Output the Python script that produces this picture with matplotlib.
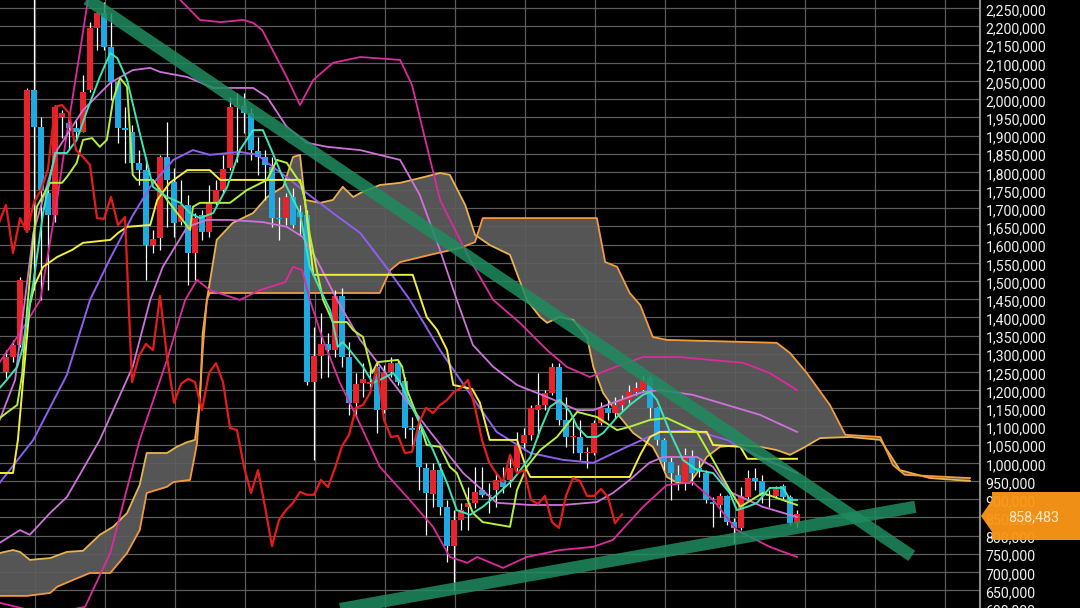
import numpy as np
import matplotlib
matplotlib.use("Agg")
import matplotlib.pyplot as plt
from matplotlib.patches import Polygon

# prices in thousands of yen, one candle per bar
open_ = [1250, 1291, 1324, 1640, 2025, 1924, 1742, 1682, 1951, 1935, 1921, 1910, 2025, 2196, 2237, 2144, 2047, 1921, 1910, 1825,
         1805, 1599, 1618, 1841, 1772, 1662, 1709, 1577, 1682, 1635, 1717, 1750, 1811, 1979, 1981, 1962, 1857, 1841, 1814, 1673,
         1673, 1731, 1690, 1682, 1222, 1294, 1327, 1310, 1459, 1291, 1165, 1220, 1217, 1263, 1145, 1250, 1274, 1225, 1096, 1090,
         986, 914, 980, 879, 771, 843, 879, 890, 925, 909, 925, 953, 953, 986, 1055, 1077, 1145, 1159, 1192, 1263,
         1118, 1071, 1071, 1027, 1027, 1110, 1151, 1137, 1159, 1173, 1195, 1200, 1233, 1151, 1063, 1002, 967, 947, 1016, 986,
         972, 893, 884, 909, 837, 821, 906, 958, 950, 912, 909, 936, 906, 834]
high = [1310, 1338, 1511, 2031, 2290, 1951, 1750, 1984, 1970, 1962, 1943, 2066, 2212, 2240, 2267, 2237, 2053, 1979, 1929, 1860,
        1841, 1640, 1847, 1937, 1811, 1778, 1737, 1687, 1695, 1764, 1778, 1847, 2006, 2017, 2017, 1976, 1896, 1860, 1841, 1731,
        1742, 1756, 1709, 1695, 1374, 1412, 1357, 1475, 1481, 1332, 1247, 1274, 1274, 1274, 1269, 1291, 1283, 1236, 1126, 1126,
        1000, 1000, 1000, 898, 870, 890, 933, 989, 989, 944, 972, 989, 1022, 1085, 1096, 1159, 1247, 1200, 1274, 1274,
        1181, 1126, 1118, 1044, 1118, 1167, 1173, 1181, 1187, 1214, 1222, 1239, 1239, 1154, 1068, 1016, 994, 1041, 1035, 1008,
        980, 906, 917, 912, 848, 933, 980, 986, 967, 925, 936, 942, 912, 870]
low = [1233, 1277, 1318, 1635, 1475, 1448, 1475, 1662, 1893, 1860, 1888, 1910, 2020, 2135, 2135, 1998, 1880, 1825, 1805, 1764,
       1503, 1577, 1585, 1649, 1621, 1654, 1489, 1503, 1613, 1621, 1709, 1742, 1805, 1827, 1907, 1833, 1792, 1723, 1649, 1613,
       1654, 1646, 1627, 1214, 1008, 1233, 1236, 1291, 1263, 1132, 1126, 1181, 1208, 1082, 1137, 1236, 1214, 1068, 1044, 925,
       801, 879, 857, 727, 650, 815, 815, 876, 906, 862, 879, 917, 933, 972, 1035, 1063, 1071, 1145, 1187, 1104,
       1044, 1027, 1008, 986, 1022, 1104, 1118, 1123, 1145, 1165, 1187, 1195, 1123, 1049, 980, 898, 925, 925, 939, 961,
       890, 823, 851, 829, 779, 815, 901, 925, 890, 879, 903, 901, 829, 823]
close = [1291, 1324, 1503, 2025, 1924, 1750, 1682, 1979, 1962, 1921, 1910, 2020, 2196, 2237, 2144, 2047, 1921, 1915, 1825, 1805,
         1599, 1616, 1841, 1778, 1660, 1709, 1577, 1673, 1635, 1717, 1750, 1808, 1979, 1984, 1962, 1860, 1841, 1819, 1673, 1671,
         1731, 1654, 1676, 1222, 1294, 1327, 1310, 1459, 1291, 1165, 1217, 1231, 1222, 1145, 1247, 1274, 1222, 1096, 1090, 989,
         917, 980, 879, 771, 843, 870, 890, 920, 912, 912, 953, 933, 986, 1046, 1077, 1151, 1159, 1192, 1263, 1118,
         1071, 1074, 1027, 1030, 1110, 1151, 1137, 1159, 1173, 1195, 1206, 1228, 1151, 1063, 1002, 972, 947, 1022, 972, 980,
         898, 887, 909, 837, 821, 909, 958, 950, 909, 909, 928, 906, 834, 858.483]

# bollinger middle / +-1 sigma / +-2 sigma  (bar, price)
mid_x = [-0.9, 3.9, 8.7, 12, 14.9, 18.1, 20.6, 23.9, 26.7, 29.1, 33.4, 35.9, 38.1, 40.6, 42.4, 46.7, 50.6, 54.1, 57.7, 62,
         65.9, 70.1, 74.9, 79.6, 83.9, 88.7, 93.4, 98.1, 103, 107.7, 113]
mid_y = [945, 1063, 1242, 1448, 1563, 1680, 1759, 1833, 1860, 1847, 1855, 1847, 1814, 1778, 1750, 1687, 1632, 1544, 1448, 1310,
         1200, 1085, 1027, 1008, 1000, 1044, 1085, 1090, 1063, 1016, 972]
up1_x = [-0.9, 1.3, 2.7, 3.9, 7.3, 11, 14.9, 18.1, 20.6, 22, 25.9, 29.6, 35.3, 37.3, 40.1, 43, 45.9, 50.6, 56.3, 59.1,
         62, 64.4, 66.7, 69.6, 73, 77.3, 81.6, 83.9, 86.7, 91, 93.4, 98.1, 103, 107.7, 113]
up1_y = [1118, 1228, 1448, 1632, 1860, 1970, 2045, 2080, 2086, 2075, 2061, 2031, 2031, 2006, 1924, 1880, 1869, 1860, 1833, 1737,
         1585, 1448, 1324, 1264, 1214, 1181, 1145, 1145, 1165, 1195, 1200, 1187, 1159, 1132, 1085]
lo1_x = [-0.9, 2, 3.4, 6.3, 8.7, 13.4, 18.1, 20.6, 22.4, 25.9, 28.7, 32, 36.7, 40.1, 42.4, 44.4, 47.3, 50.6, 55.3, 60.6,
         65.3, 70.1, 74.9, 79.6, 84.4, 86.7, 89.1, 91.9, 93.9, 98.7, 101, 103.4, 108.1, 113]
lo1_y = [780, 815, 802, 862, 906, 1063, 1264, 1448, 1539, 1649, 1668, 1668, 1662, 1649, 1621, 1558, 1448, 1338, 1220, 1085,
         972, 890, 884, 884, 892, 917, 953, 1000, 1016, 1016, 989, 920, 879, 851]
up2_x = [-0.9, 2, 4.9, 7.3, 8.7, 10.6, 11.7, 14.9, 19.1, 22.7, 24.9, 27.7, 30.6, 33.9, 35.3, 36.6, 40.1, 42, 43.9, 46.7,
         50.6, 56.3, 58, 59.9, 62, 66.3, 69.6, 73.4, 77.3, 80.1, 83.4, 86.7, 91, 96.3, 100.6, 105.3, 109.1, 113]
up2_y = [1277, 1357, 1448, 1723, 1907, 2135, 2273, 2438, 2520, 2410, 2273, 2218, 2212, 2218, 2210, 2190, 2061, 1984, 2053, 2100,
         2116, 2108, 2039, 1888, 1723, 1558, 1448, 1385, 1310, 1264, 1236, 1261, 1291, 1291, 1283, 1275, 1247, 1200]
lo2_x = [-0.9, 3.4, 7.7, 11.3, 14.9, 19.1, 23, 25.6, 27.3, 29.1, 33.4, 36.3, 39.9, 41, 42.3, 43.4, 45.3, 47.7, 50.1, 53.4,
         57.3, 61, 63.4, 65.9, 67.3, 71, 74.4, 79.1, 83.9, 86.7, 91, 94.4, 98.1, 101, 104.4, 109.1, 113]
lo2_y = [615, 595, 590, 604, 752, 1063, 1283, 1448, 1503, 1475, 1448, 1475, 1497, 1539, 1530, 1448, 1338, 1220, 1126, 989,
         906, 824, 741, 725, 741, 711, 741, 760, 769, 788, 879, 939, 947, 898, 815, 769, 741]

# short moving average
ma_x = [-0.9, 0.1, 1.6, 2.3, 3, 3.9, 5.3, 7, 8.7, 10.1, 11.6, 13.4, 14.9, 15.9, 17.3, 19.1, 21, 23, 24.9, 26.3,
        27.7, 29.6, 31.6, 33.4, 35.3, 36.7, 38.1, 40.1, 42, 43.4, 44.9, 46.3, 47.4, 48.1, 49.1, 51, 52.4, 53.4, 55.3, 56.3,
        57.3, 59.1, 61, 63, 64.4, 66.3, 68.1, 70.1, 72.4, 74.9, 76.3, 77.7, 79.1, 80.6, 81.6, 83, 84.4, 85.3, 87.3, 89.1,
        91, 92, 93, 94.9, 96.7, 98.7, 101, 103.4, 104.4, 105.9, 107.3, 109.1, 111, 112, 113]
ma_y = [1206, 1228, 1264, 1310, 1393, 1495, 1687, 1852, 1852, 1888, 1970, 2061, 2127, 2113, 2053, 1907, 1759, 1731, 1715, 1687,
        1673, 1687, 1759, 1860, 1915, 1915, 1852, 1759, 1687, 1539, 1475, 1420, 1319, 1332, 1310, 1264, 1220, 1228, 1247, 1222,
        1181, 1110, 1035, 945, 870, 857, 879, 912, 953, 1016, 1090, 1154, 1173, 1140, 1099, 1071, 1071, 1082, 1126, 1159,
        1187, 1195, 1173, 1082, 1008, 980, 972, 917, 870, 879, 890, 931, 931, 898, 898]

# ichimoku conversion / base lines
tenkan_x = [-0.9, 0.6, 1.6, 2.3, 3, 3.9, 4.4, 6.3, 8, 8.7, 10.1, 11, 12.3, 13.4, 14.4, 15.3, 16.3, 17.3, 18.1, 18.7,
            21, 23, 24.9, 26.3, 26.7, 27.7, 32, 34.4, 37.3, 38.7, 40.1, 42.4, 43.4, 44.4, 45.3, 46.7, 48.7, 49.6, 51, 52.3,
            53.1, 56, 56.6, 57.3, 59.1, 60.1, 62, 63.4, 64.4, 66.7, 68.1, 72, 73, 74.4, 76.3, 78.7, 81.6, 84.4, 87.3, 89.1,
            92, 94.4, 98.7, 101, 103.4, 104.9, 108.1, 113]
tenkan_y = [1123, 1145, 1159, 1242, 1420, 1613, 1704, 1770, 1770, 1786, 1825, 1888, 1893, 1869, 1888, 1998, 2058, 2034, 1792, 1778,
            1778, 1723, 1676, 1640, 1704, 1715, 1715, 1750, 1778, 1833, 1825, 1759, 1627, 1530, 1448, 1387, 1387, 1365, 1346, 1247,
            1277, 1283, 1264, 1200, 1110, 1049, 1044, 989, 972, 862, 837, 824, 925, 989, 1035, 1071, 1140, 1126, 1090, 1099,
            1118, 1123, 1085, 1008, 925, 879, 917, 884]
kijun_x = [-0.9, 1, 1.7, 2.7, 3.4, 4.1, 5.3, 7.3, 9.4, 11, 14.9, 16, 17.3, 20.6, 21.6, 23.4, 25.9, 29.1, 30.6, 42,
           42.7, 43.9, 58.1, 60.1, 61.6, 63, 63.9, 66.6, 67.7, 69.1, 73, 74.4, 74.9, 89.1, 90.6, 92, 93.4, 100.1, 101, 104.9,
           105.9, 113]
kijun_y = [972, 972, 1063, 1283, 1434, 1489, 1539, 1566, 1585, 1605, 1613, 1632, 1649, 1654, 1723, 1770, 1805, 1805, 1778, 1778,
           1723, 1517, 1517, 1401, 1365, 1310, 1214, 1203, 1165, 1063, 1063, 980, 961, 961, 1022, 1071, 1085, 1085, 1049, 1044,
           1011, 1011]

# leading spans (cloud)
spanA_x = [-0.9, 1, 2, 3.4, 6.3, 8.7, 11, 13.4, 15.3, 17.3, 19.1, 20.1, 23, 24.4, 25.9, 27, 27.7, 28.1, 28.7, 30.1,
           32.4, 35.3, 37.3, 39.6, 41, 42, 42.7, 44.9, 46.7, 48.1, 49.6, 50.6, 53.4, 56.3, 59.1, 62, 63.4, 65.6, 67, 69.1,
           72, 74.4, 76.3, 77.3, 79.1, 81, 83, 83.9, 85.3, 87.7, 89.6, 92.4, 93.4, 94.4, 95.9, 97.7, 98.7, 100.1, 102, 104.9,
           107.7, 110.1, 112, 113.9, 116.3, 120.6, 124.9, 126.3, 127.7, 132, 137.7]
spanA_y = [752, 760, 755, 733, 738, 755, 758, 802, 824, 862, 939, 1027, 1027, 1044, 1057, 1063, 1173, 1357, 1448, 1613,
           1660, 1687, 1731, 1759, 1841, 1847, 1723, 1715, 1723, 1759, 1731, 1742, 1764, 1770, 1783, 1797, 1792, 1709, 1627, 1599,
           1572, 1448, 1401, 1385, 1401, 1393, 1346, 1264, 1192, 1126, 1082, 1044, 1008, 961, 945, 945, 972, 1016, 1044, 1049,
           1044, 1035, 1022, 1041, 1068, 1071, 1063, 1022, 980, 958, 950]
spanB_x = [-0.9, 3, 6.3, 7.3, 9.6, 12, 14.9, 17.3, 19.1, 20.1, 23, 23.9, 26.3, 27.3, 28.1, 28.7, 29.1, 53.4, 54.9, 56.3,
           60.6, 64.9, 67, 68.1, 84.4, 85.6, 87.3, 89.1, 90.6, 92.4, 94.4, 110.1, 112, 114.4, 117.7, 119.9, 124.9, 126.7, 128.4, 137.7]
spanB_y = [634, 634, 642, 659, 678, 697, 697, 752, 815, 917, 934, 947, 953, 1055, 1310, 1448, 1467, 1467, 1530, 1552,
           1572, 1591, 1607, 1673, 1673, 1552, 1539, 1467, 1434, 1346, 1338, 1330, 1302, 1247, 1159, 1077, 1071, 994, 967, 958]

# drawn trend lines (bar, price)
trend_down = [(10.6, 2288), (129.4, 744)]
trend_up = [(46.3, 593), (129.9, 879)]

last_price = 858483

fig = plt.figure(figsize=(10.8, 6.08), dpi=100, facecolor='black')
ax = fig.add_axes([0, 0, 980 / 1080, 1])
ax.set_facecolor('black')
ax.set_xlim(-0.857, 139.14)
ax.set_ylim(600.7, 2272.8)

ax.set_xticks(np.arange(4.1, 139, 10))
ax.set_yticks(np.arange(650, 2251, 50))
ax.grid(True, color='#5c5c5c', lw=0.9, zorder=0)
ax.tick_params(length=0, labelbottom=False, labelleft=False)
for s in ['top', 'left', 'bottom']:
    ax.spines[s].set_visible(False)
ax.spines['right'].set_color('#8c8c8c')
ax.spines['right'].set_linewidth(1.5)

# cloud
cloud_x = np.concatenate([spanA_x, spanB_x[::-1]])
cloud_y = np.concatenate([spanA_y, spanB_y[::-1]])
ax.fill(cloud_x, cloud_y, color='#8f8f8f', alpha=0.6, lw=0, zorder=1)
ax.plot(spanA_x, spanA_y, color='#e8b24c', lw=1.3, zorder=2)
ax.plot(spanB_x, spanB_y, color='#f59a3c', lw=1.3, zorder=2)

# candles
x = np.arange(len(close))
o = np.array(open_, dtype=float)
c = np.array(close, dtype=float)
up = c >= o
colors = np.where(up, '#e8232b', '#1fa9e1')
body_low = np.minimum(o, c)
body_h = np.maximum(np.abs(c - o), 3)
ax.vlines(x, low, high, color='white', lw=0.9, zorder=3)
ax.bar(x, body_h, bottom=body_low, width=0.72, color=colors, lw=0, zorder=3.2)

# indicator lines
ax.plot(up2_x, up2_y, color='#de2a9e', lw=1.3, zorder=4)
ax.plot(lo2_x, lo2_y, color='#de2a9e', lw=1.3, zorder=4)
ax.plot(up1_x, up1_y, color='#cf72dc', lw=1.3, zorder=4)
ax.plot(lo1_x, lo1_y, color='#cf72dc', lw=1.3, zorder=4)
ax.plot(mid_x, mid_y, color='#8e5ef0', lw=1.4, zorder=4)
ax.plot(kijun_x, kijun_y, color='#f4ee3c', lw=1.4, zorder=4.1)
ax.plot(tenkan_x, tenkan_y, color='#b6f03c', lw=1.4, zorder=4.2)
ax.plot(ma_x, ma_y, color='#3ce6b4', lw=1.4, zorder=4.3)
# lagging span = close shifted back 25 bars
ax.plot(np.arange(-1, len(close) - 25), close[24:], color='#e41c1c', lw=1.6, zorder=4.4)

# trend lines
for line in [trend_down, trend_up]:
    ax.plot([p[0] for p in line], [p[1] for p in line], color='#1f8c60', alpha=0.85, lw=8.8,
            solid_capstyle='butt', zorder=6)

# price axis labels
for v in range(600, 2251, 50):
    ax.annotate(f"{v * 1000:,}", xy=(1, v), xycoords=('axes fraction', 'data'), xytext=(4, -2.2),
                textcoords='offset points', color='#f0f0f0', fontsize=10.2, family='Roboto',
                va='center', ha='left', annotation_clip=False)

# last price tag
def fp(px, py):
    return (px / 1080, 1 - py / 608)

tag = Polygon([fp(981, 516), fp(992, 500), fp(992, 492), fp(1080, 492), fp(1080, 540), fp(992, 540), fp(992, 532)],
              closed=True, transform=fig.transFigure, facecolor='#fb9618', edgecolor='none', alpha=0.96, zorder=10)
fig.patches.append(tag)
fig.text(1034 / 1080, 1 - 517 / 608, f"{last_price:,}", color='#ffe8c4', fontsize=10.4, family='Roboto',
         ha='center', va='center', zorder=11)

plt.savefig('out.png', dpi=100, facecolor='black')
